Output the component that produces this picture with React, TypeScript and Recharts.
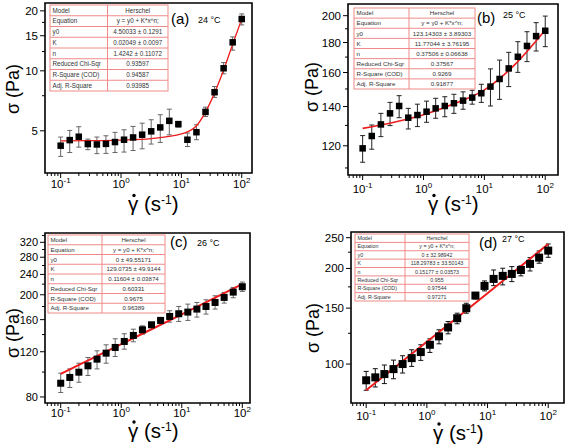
import { ComposedChart, Scatter, Line, XAxis, YAxis, ErrorBar, ReferenceArea } from "recharts";

// shear rate, 21 points, same for all four temperatures
const shearRate = [0.1, 0.1413, 0.1995, 0.2818, 0.3981, 0.5623, 0.7943, 1.122, 1.585, 2.239, 3.162, 4.467, 6.31, 8.913, 12.59, 17.78, 25.12, 35.48, 50.12, 70.79, 100];

// (a) 24 °C
const stressA = [4.21, 4.49, 4.67, 4.29, 4.27, 4.3, 4.39, 4.51, 4.63, 4.78, 4.97, 5.2, 5.61, 5.4, 4.51, 4.92, 6.22, 7.81, 10.3, 13.9, 18.2];
const upperA = [4.65, 5.02, 5.24, 4.54, 4.65, 4.72, 4.91, 5.06, 5.26, 5.46, 5.68, 6.02, 6.42, 5.57, 4.87, 5.36, 6.57, 8.34, 11.0, 14.8, 19.3];
const lowerA = [3.72, 3.89, 4.14, 4.02, 3.84, 3.85, 3.89, 3.91, 3.98, 4.06, 4.29, 4.37, 4.77, 5.22, 4.17, 4.51, 5.9, 7.35, 9.66, 12.7, 17.0];
const fitRateA = [0.1, 0.316, 1, 3.16, 10, 17.8, 25.1, 35.5, 50.1, 70.8, 100];
const fitA = [4.45, 4.46, 4.49, 4.57, 4.82, 5.3, 6.2, 7.75, 10.1, 13.6, 18.2];

// (b) 25 °C
const stressB = [118.8, 124.7, 130.5, 136.3, 140.3, 134.0, 135.4, 137.2, 139.0, 140.3, 141.8, 143.3, 145.0, 147.5, 151.4, 156.0, 162.6, 170.2, 177.6, 184.6, 188.5];
const upperB = [124.9, 130.2, 136.3, 142.3, 146.1, 139.0, 141.3, 143.0, 144.6, 145.5, 146.9, 148.3, 149.2, 152.8, 162.3, 168.0, 173.2, 180.6, 187.8, 194.6, 199.7];
const lowerB = [112.5, 118.4, 124.4, 129.9, 134.0, 128.2, 129.4, 131.6, 133.7, 134.5, 136.3, 138.5, 141.3, 142.3, 140.3, 144.0, 151.4, 160.1, 167.0, 174.1, 177.1];
const fitRateB = [0.1, 0.316, 1, 3.16, 10, 31.6, 100];
const fitB = [128.5, 131.5, 135.5, 141.5, 149.5, 165, 189];

// (c) 26 °C
const stressC = [90.5, 95.3, 99.9, 105.8, 112.3, 118.5, 124.7, 131.6, 138.9, 146.1, 152.8, 158.9, 164.7, 168.7, 171.2, 175.9, 180.1, 186.7, 195.3, 204.8, 214.9];
const upperC = [99.0, 102.9, 108.3, 114.0, 121.0, 127.7, 134.8, 141.0, 146.9, 151.4, 156.1, 163.2, 173.3, 180.1, 183.9, 186.7, 191.2, 198.2, 204.2, 213.6, 224.1];
const lowerC = [83.3, 87.1, 91.3, 97.0, 102.9, 108.3, 115.0, 122.8, 131.2, 140.5, 149.2, 155.1, 156.5, 157.4, 158.9, 163.7, 168.2, 175.9, 185.6, 194.7, 206.1];
const fitRateC = [0.1, 1, 10, 100];
const fitC = [98.4, 128.5, 167.8, 220];

// (d) 27 °C
const stressD = [88.9, 90.8, 93.0, 96.4, 100, 104.4, 109.1, 115.0, 122.2, 130.4, 139.4, 149.9, 164.3, 176.2, 185.4, 189.5, 192.2, 197.8, 206.7, 216.3, 227.6];
const upperD = [94.8, 96.7, 99.3, 102.9, 106.2, 110.9, 115.0, 120.1, 128.2, 136.1, 144.6, 155.4, 167.1, 182.7, 197.8, 200.3, 202.7, 203.7, 216.3, 227.0, 238.8];
const lowerD = [82.7, 84.7, 86.8, 89.9, 93.7, 98.3, 102.7, 108.8, 115.8, 124.5, 133.9, 144.6, 160.4, 170.0, 176.6, 177.5, 181.8, 189.5, 196.4, 207.7, 216.8];
const fitRateD = [0.1, 1, 10, 100];
const fitD = [82.7, 117.5, 167.1, 238.8];

// ticks
const xMinorFactors = [2, 3, 4, 5, 6, 7, 8, 9];
const yTicksA = [5, 10, 15, 20];
const yMinorA = [7.5, 12.5, 17.5];
const yTicksB = [120, 140, 160, 180, 200];
const yMinorB = [110, 130, 150, 170, 190];
const yTicksC = [80, 120, 160, 200, 240, 280, 320];
const yMinorC = [100, 140, 180, 220, 260, 300, 340];
const yTicksD = [100, 150, 200, 250];
const yMinorD = [125, 175, 225];

// fit report tables
const tableLabels = ["Model", "Equation", "y0", "K", "n", "Reduced Chi-Sqr", "R-Square (COD)", "Adj. R-Square"];
const tableA = ["Herschel", "y = y0 + K*x^n;", "4.50033 ± 0.1291", "0.02049 ± 0.0097", "1.4242 ± 0.11072", "0.93597", "0.94587", "0.93985"];
const tableB = ["Herschel", "y = y0 + K*x^n;", "123.14303 ± 3.89303", "11.77044 ± 3.76195", "0.37506 ± 0.06638", "0.37567", "0.9269", "0.91877"];
const tableC = ["Herschel", "y = y0 + K*x^n;", "0 ± 49.55171", "129.0735 ± 49.9144", "0.11604 ± 0.03874", "0.60331", "0.9675", "0.96389"];
const tableD = ["Herschel", "y = y0 + K*x^n;", "0 ± 32.98942", "118.29783 ± 33.50143", "0.15177 ± 0.03573", "0.955", "0.97544", "0.97271"];

const FONT = "'Liberation Sans', Arial, sans-serif";

function toPoints(stress: number[], upper: number[], lower: number[]) {
  return shearRate.map((x, i) => ({ x, y: stress[i], err: [stress[i] - lower[i], upper[i] - stress[i]] }));
}

function toFit(rates: number[], vals: number[]) {
  return rates.map((x, i) => ({ x, y: vals[i] }));
}

function xTickList(domain: number[]) {
  const out: number[] = [];
  for (let d = -2; d <= 2; d++) {
    const base = Math.pow(10, d);
    if (base >= domain[0] && base <= domain[1]) out.push(base);
    xMinorFactors.forEach((m) => {
      const v = m * base;
      if (v >= domain[0] && v <= domain[1]) out.push(v);
    });
  }
  return out.sort((a, b) => a - b);
}

function makeXTick(labelOffset: number) {
  return (props: any) => {
    const { x, y, payload } = props;
    const lg = Math.log10(payload.value);
    const e = Math.round(lg);
    const major = Math.abs(lg - e) < 1e-6;
    return (
      <g>
        <line x1={x} x2={x} y1={y} y2={y + (major ? 5 : 3)} stroke="#000" strokeWidth={1} />
        {major && (
          <text x={x} y={y + labelOffset} textAnchor="middle" fontSize={11.5} fontFamily={FONT} fill="#000">
            10<tspan dy={-5} fontSize={8}>{String(e)}</tspan>
          </text>
        )}
      </g>
    );
  };
}

function makeYTick(majors: number[], fontSize: number) {
  return (props: any) => {
    const { x, y, payload } = props;
    const major = majors.includes(payload.value);
    return (
      <g>
        <line x1={x} x2={x - (major ? 5 : 3)} y1={y} y2={y} stroke="#000" strokeWidth={1} />
        {major && (
          <text x={x - 7} y={y + 4} textAnchor="end" fontSize={fontSize} fontFamily={FONT} fill="#000">
            {payload.value}
          </text>
        )}
      </g>
    );
  };
}

function Panel(p: any) {
  const [bx0, bx1, by0, by1] = p.box;
  const marginTop = by0 - p.top;
  const yWidth = bx0 - p.left;
  const marginRight = p.left + p.width - bx1;
  const xHeight = p.top + p.height - by1;
  const s = p.marker;
  return (
    <div style={{ position: "absolute", left: p.left, top: p.top }}>
      <ComposedChart width={p.width} height={p.height} margin={{ top: marginTop, right: marginRight, left: 0, bottom: 0 }}>
        <XAxis
          dataKey="x"
          type="number"
          scale="log"
          domain={p.xDomain}
          allowDataOverflow
          ticks={xTickList(p.xDomain)}
          interval={0}
          tick={makeXTick(p.xLabelOffset)}
          tickSize={0}
          tickMargin={0}
          axisLine={false}
          height={xHeight}
        />
        <YAxis
          dataKey="y"
          type="number"
          scale="log"
          domain={p.yDomain}
          allowDataOverflow
          ticks={[...p.yTicks, ...p.yMinor].filter((v: number) => v >= p.yDomain[0] && v <= p.yDomain[1]).sort((a: number, b: number) => a - b)}
          interval={0}
          tick={makeYTick(p.yTicks, p.yFont)}
          tickSize={0}
          tickMargin={0}
          axisLine={false}
          width={yWidth}
        />
        <ReferenceArea
          x1={p.xDomain[0]}
          x2={p.xDomain[1]}
          y1={p.yDomain[0]}
          y2={p.yDomain[1]}
          fill="none"
          stroke="#000"
          strokeWidth={1.6}
          fillOpacity={0}
          ifOverflow="visible"
        />
        <Scatter
          data={p.points}
          isAnimationActive={false}
          shape={(q: any) => <rect x={q.cx - s / 2} y={q.cy - s / 2} width={s} height={s} fill="#000" />}
        >
          <ErrorBar dataKey="err" direction="y" width={2.5} stroke={p.barColor} strokeWidth={1} />
        </Scatter>
        <Line
          data={p.fit}
          dataKey="y"
          type="monotone"
          stroke="#ee1c1c"
          strokeWidth={p.fitWidth}
          dot={false}
          activeDot={false}
          isAnimationActive={false}
        />
      </ComposedChart>
    </div>
  );
}

function FitTable({ x0, x1, split, y0, y1, values, fontSize }: any) {
  const h = (y1 - y0) / tableLabels.length;
  return (
    <g fontFamily={FONT} fontSize={fontSize} fill="#333">
      <rect x={x0} y={y0} width={x1 - x0} height={y1 - y0} fill="#fff" stroke="#f08a8a" strokeWidth={1} />
      {tableLabels.slice(1).map((_, i) => (
        <line key={i} x1={x0} x2={x1} y1={y0 + (i + 1) * h} y2={y0 + (i + 1) * h} stroke="#f08a8a" strokeWidth={1} />
      ))}
      <line x1={split} x2={split} y1={y0} y2={y1} stroke="#f08a8a" strokeWidth={1} />
      {tableLabels.map((t, i) => (
        <text key={"l" + i} x={x0 + 2.5} y={y0 + i * h + h / 2 + fontSize * 0.36}>
          {t}
        </text>
      ))}
      {values.map((t: string, i: number) => (
        <text key={"v" + i} x={(split + x1) / 2} y={y0 + i * h + h / 2 + fontSize * 0.36} textAnchor="middle">
          {t}
        </text>
      ))}
    </g>
  );
}

function SigmaLabel({ cx, cy }: any) {
  return (
    <text x={cx} y={cy} transform={`rotate(-90 ${cx} ${cy})`} textAnchor="middle" dominantBaseline="central" fontSize={18} fontFamily={FONT} fill="#000">
      σ (Pa)
    </text>
  );
}

// x: left edge of the gamma glyph, y: baseline
function GammaLabel({ x, y }: any) {
  return (
    <g fontFamily={FONT} fill="#000">
      <text x={x} y={y} fontSize={20.5}>
        γ (s<tspan dy={-7} fontSize={12}>-1</tspan>
        <tspan dy={7}>)</tspan>
      </text>
      <circle cx={x + 6} cy={y - 15.5} r={1.7} fill="#000" />
    </g>
  );
}

function PanelTag({ x, y, tag, tx, ty, temp }: any) {
  return (
    <g fontFamily={FONT} fill="#000">
      <text x={x} y={y} fontSize={15}>{tag}</text>
      <text x={tx} y={ty} fontSize={9}>{temp}</text>
    </g>
  );
}

export default function App() {
  return (
    <div style={{ position: "absolute", left: 0, top: 0, width: 567, height: 448, background: "#fff", fontFamily: FONT }}>
      <Panel
        left={0} top={0} width={283} height={220}
        box={[45, 252, 3, 173]}
        xDomain={[0.055, 148]} yDomain={[3.07, 21.9]}
        yTicks={yTicksA} yMinor={yMinorA} yFont={11.5} xLabelOffset={15}
        points={toPoints(stressA, upperA, lowerA)} fit={toFit(fitRateA, fitA)}
        marker={6.5} barColor="#666" fitWidth={1.3}
      />
      <Panel
        left={283} top={0} width={284} height={220}
        box={[348, 558, 4, 175]}
        xDomain={[0.0575, 162]} yDomain={[107, 209.4]}
        yTicks={yTicksB} yMinor={yMinorB} yFont={11.5} xLabelOffset={17.5}
        points={toPoints(stressB, upperB, lowerB)} fit={toFit(fitRateB, fitB)}
        marker={6.5} barColor="#222" fitWidth={1.6}
      />
      <Panel
        left={0} top={220} width={283} height={228}
        box={[45, 250, 233, 403]}
        xDomain={[0.055, 134]} yDomain={[75.8, 347.9]}
        yTicks={yTicksC} yMinor={yMinorC} yFont={11} xLabelOffset={13.5}
        points={toPoints(stressC, upperC, lowerC)} fit={toFit(fitRateC, fitC)}
        marker={7} barColor="#666" fitWidth={2}
      />
      <Panel
        left={283} top={220} width={284} height={228}
        box={[351, 564, 232, 403]}
        xDomain={[0.0562, 182]} yDomain={[75.4, 260.5]}
        yTicks={yTicksD} yMinor={yMinorD} yFont={11.5} xLabelOffset={17}
        points={toPoints(stressD, upperD, lowerD)} fit={toFit(fitRateD, fitD)}
        marker={8} barColor="#111" fitWidth={2}
      />
      <svg width={567} height={448} style={{ position: "absolute", left: 0, top: 0, pointerEvents: "none" }}>
        <FitTable x0={50} x1={168} split={107.5} y0={5} y1={91} values={tableA} fontSize={6.3} />
        <FitTable x0={354} x1={475} split={409} y0={8} y1={89} values={tableB} fontSize={6.2} />
        <FitTable x0={48} x1={165} split={102} y0={235} y1={313} values={tableC} fontSize={6.1} />
        <FitTable x0={355} x1={469} split={405} y0={234} y1={301} values={tableD} fontSize={5.3} />

        <PanelTag x={171} y={24} tag="(a)" tx={198} ty={23} temp="24 °C" />
        <PanelTag x={477} y={23} tag="(b)" tx={503} ty={18} temp="25 °C" />
        <PanelTag x={170} y={247} tag="(c)" tx={197} ty={246} temp="26 °C" />
        <PanelTag x={479} y={248} tag="(d)" tx={502} ty={242} temp="27 °C" />

        <SigmaLabel cx={13} cy={89} />
        <SigmaLabel cx={312} cy={87} />
        <SigmaLabel cx={13} cy={333} />
        <SigmaLabel cx={313} cy={328} />

        <GammaLabel x={128} y={211} />
        <GammaLabel x={428} y={211} />
        <GammaLabel x={128} y={437.5} />
        <GammaLabel x={433} y={439.5} />
      </svg>
    </div>
  );
}
